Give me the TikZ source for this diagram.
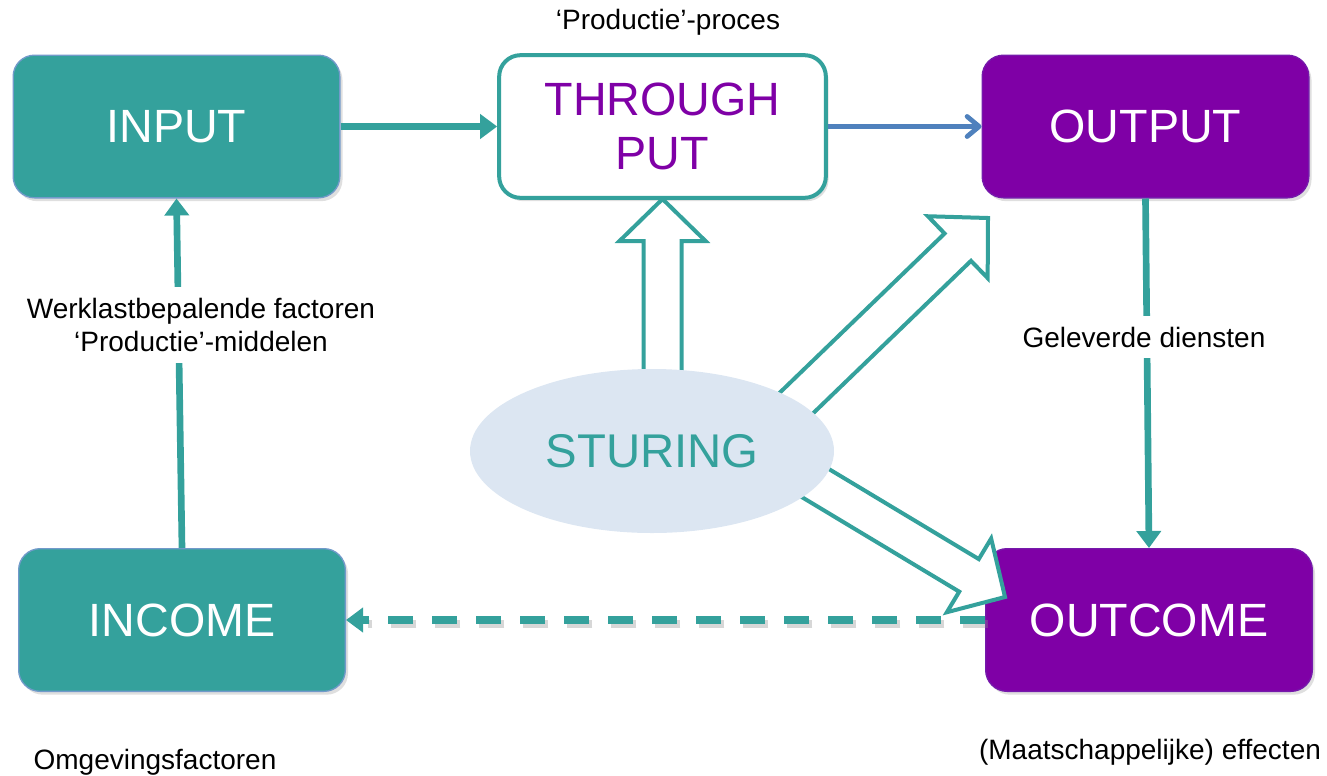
\documentclass[tikz,border=0pt]{standalone}
\usepackage{fontspec}
\setmainfont{Liberation Sans}
\usetikzlibrary{arrows.meta,shadows,shapes.geometric}
\definecolor{tealc}{HTML}{34A19C}
\definecolor{purp}{HTML}{7F00A6}
\definecolor{bluel}{HTML}{4F81BD}
\definecolor{ellc}{HTML}{DCE6F2}
\newcommand{\hollowarrow}[3]{%
  \begin{scope}[shift={(#1)},rotate=#2]
    \draw[hollow] (0,0) -- (-42,43) -- (-42,19) -- (-#3,19) -- (-#3,-19) -- (-42,-19) -- (-42,-43) -- cycle;
  \end{scope}}
\begin{document}
\begin{tikzpicture}[x=0.75pt,y=-0.75pt,
  box/.style={rounded corners=16pt, minimum width=245pt, minimum height=107pt, inner sep=0pt,
    font=\fontsize{35}{41}\selectfont, align=center,
    drop shadow={opacity=0.25, shadow xshift=2pt, shadow yshift=-2.5pt}},
  tealbox/.style={box, fill=tealc, draw=bluel!80, line width=1pt, text=white},
  purpbox/.style={box, fill=purp, draw=purp!80!bluel, line width=1pt, text=white},
  lbl/.style={font=\fontsize{21}{25}\selectfont, inner sep=0pt, align=center},
  bglbl/.style={lbl, fill=white, inner xsep=2pt, inner ysep=8pt},
  hollow/.style={draw=tealc, fill=white, line width=3pt, line join=miter},
  tealarrow/.style={draw=tealc, line width=5pt, -{Triangle[length=12.75pt,width=18pt]}},
  bluearrow/.style={draw=bluel, line width=3.6pt, -{Straight Barb[length=9pt,width=15pt,line cap=round,line join=round]}},
  dasharrow/.style={draw=tealc, line width=5.5pt, dash pattern=on 18.75pt off 14.25pt, -{Triangle[length=12.75pt,width=18pt]}}
]
\useasboundingbox (0,0) rectangle (1327,775);

% boxes
\node[tealbox] (input) at (176.5,126.5) {INPUT};
\node[box, fill=white, draw=tealc, line width=3pt, text=purp] (through) at (662.5,126.5) {THROUGH\\PUT};
\node[purpbox] (output) at (1145.5,126.5) {OUTPUT};
\node[tealbox] (income) at (182,620) {INCOME};
\node[purpbox] (outcome) at (1149,620) {OUTCOME};

% hollow block arrows
\coordinate (upTip) at (662.5,199);
\coordinate (urTip) at (988,218);
\coordinate (lrTip) at (1005,597);
\hollowarrow{upTip}{90}{200}
\hollowarrow{urTip}{44}{290}
\hollowarrow{lrTip}{-31}{300}

% steering ellipse
\node[ellipse, fill=ellc, minimum width=273pt, minimum height=123pt, inner sep=0pt,
  text=tealc, font=\fontsize{35.5}{41}\selectfont] (sturing) at (652,451) {STURING};

% connectors
\draw[tealarrow] (input.east) -- (through.west);
\draw[bluearrow] (through.east) -- (output.west);
\draw[tealarrow] (income.north) -- (input.south);
\draw[tealarrow] (output.south) -- (outcome.north);
\draw[draw=black!45, opacity=0.35, line width=5.5pt, dash pattern=on 18.75pt off 14.25pt,
  transform canvas={xshift=2.5pt,yshift=-3pt}] (outcome.west) -- ([xshift=14pt]income.east);
\draw[dasharrow] (outcome.west) -- (income.east);

% labels
\node[lbl] (proces) at (668,22) {‘Productie’-proces};
\node[bglbl] (werk) at (201,325) {Werklastbepalende factoren\\‘Productie’-middelen};
\node[bglbl] (gel) at (1144,337) {Geleverde diensten};
\node[lbl] (omg) at (155,762) {Omgevingsfactoren};
\node[lbl] (eff) at (1150,752) {(Maatschappelijke) effecten};
\end{tikzpicture}
\end{document}
